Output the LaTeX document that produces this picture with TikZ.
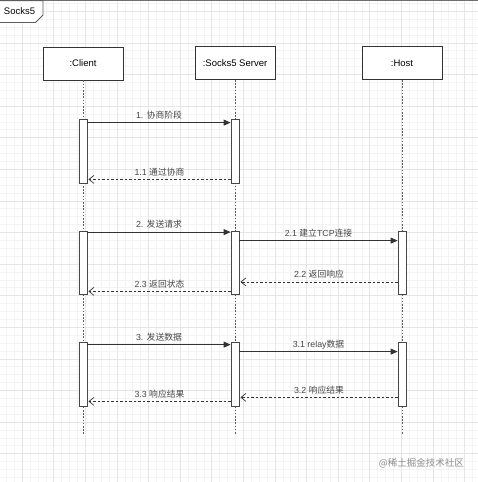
\documentclass[tikz,border=0pt]{standalone}
\usepackage{fontspec}
\setmainfont{Liberation Sans}
\newfontfamily\cjk{Noto Sans CJK SC}
\usetikzlibrary{arrows.meta}
\definecolor{ln}{HTML}{333333}
\definecolor{gridminor}{HTML}{F3F3F3}
\definecolor{gridmajor}{HTML}{E6E6E6}
\tikzset{
  part/.style={draw=ln, line width=0.9pt, fill=white, minimum width=80pt, minimum height=33pt, inner sep=0pt, font=\fontsize{9.5}{11}\selectfont},
  actbox/.style={draw=ln!90, line width=0.8pt, fill=white, minimum width=8pt, inner sep=0pt},
  life/.style={draw=ln!80, line width=0.9pt, dash pattern=on 1.6pt off 1.6pt},
  call/.style={draw=ln, line width=0.8pt, -{Triangle[length=7pt,width=6pt]}},
  ret/.style={draw=ln, line width=0.8pt, dash pattern=on 2.5pt off 2pt, -{Straight Barb[length=5pt,width=8pt,line width=0.7pt]}},
  lbl/.style={font=\fontsize{8.8}{10}\selectfont, text=ln!90, inner sep=0pt}
}
\begin{document}
\begin{tikzpicture}[x=1pt,y=-1pt]
\useasboundingbox (0,0) rectangle (478,482);
\fill[white] (0,0) rectangle (478,482);
% grid
\foreach \i in {0,...,61} { \draw[gridminor, line width=0.5pt] ({-1.6+\i*7.9},0) -- ({-1.6+\i*7.9},482); }
\foreach \i in {0,...,61} { \draw[gridminor, line width=0.5pt] (0,{3.3+\i*7.9}) -- (478,{3.3+\i*7.9}); }
\foreach \i in {0,...,15} { \draw[gridmajor, line width=0.6pt] ({22+\i*31.6-31.6},0) -- ({22+\i*31.6-31.6},482); }
\foreach \i in {0,...,15} { \draw[gridmajor, line width=0.6pt] (0,{11.2+\i*31.6}) -- (478,{11.2+\i*31.6}); }
% frame
\draw[ln!70, line width=0.9pt] (478,0.6) -- (0,0.6);
\draw[ln!80, line width=0.9pt, fill=white] (0,0.6) -- (43,0.6) -- (43,15) -- (35.5,22.5) -- (0,22.5);
\node[font=\fontsize{9.5}{11}\selectfont, inner sep=0pt] (fr) at (19.5,11.5) {Socks5};
% participants
\node[part] (cl) at (83,63.5) {:Client};
\node[part] (sv) at (235,63) {:Socks5 Server};
\node[part] (hs) at (402,63) {:Host};
\coordinate (clend) at (83,435);
\coordinate (svend) at (235,435);
\coordinate (hsend) at (402,435);
\draw[life] (cl.south) -- (clend);
\draw[life] (sv.south) -- (svend);
\draw[life] (hs.south) -- (hsend);
% activations
\node[actbox, minimum height=64pt] (c1) at (83,151) {};
\node[actbox, minimum height=64pt] (s1) at (235,151) {};
\node[actbox, minimum height=63pt] (c2) at (83,262.5) {};
\node[actbox, minimum height=63pt] (s2) at (235,262.5) {};
\node[actbox, minimum height=63pt] (h2) at (402,262.5) {};
\node[actbox, minimum height=64pt] (c3) at (83,374) {};
\node[actbox, minimum height=64pt] (s3) at (235,374) {};
\node[actbox, minimum height=64pt] (h3) at (402,374) {};
% group 1
\draw[call] ([yshift=-4pt]c1.north east) -- node[lbl, yshift=7.5pt] (l1) {1. {\cjk 协商阶段}} ([yshift=-4pt]s1.north west);
\draw[ret] ([yshift=4pt]s1.south west) -- node[lbl, yshift=7.5pt] (l11) {1.1 {\cjk 通过协商}} ([xshift=1pt,yshift=4pt]c1.south east);
% group 2
\draw[call] ([yshift=-1.5pt]c2.north east) -- node[lbl, yshift=7.5pt] (l2) {2. {\cjk 发送请求}} ([yshift=-1.5pt]s2.north west);
\draw[call] ([yshift=-10pt]s2.north east) -- node[lbl, yshift=7pt] (l21) {2.1 {\cjk 建立}TCP{\cjk 连接}} ([yshift=-10pt]h2.north west);
\draw[ret] ([yshift=12.5pt]h2.south west) -- node[lbl, yshift=7.5pt] (l22) {2.2 {\cjk 返回响应}} ([xshift=1pt,yshift=12.5pt]s2.south east);
\draw[ret] ([yshift=3pt]s2.south west) -- node[lbl, yshift=7.5pt] (l23) {2.3 {\cjk 返回状态}} ([xshift=1pt,yshift=3pt]c2.south east);
% group 3
\draw[call] ([yshift=-3pt]c3.north east) -- node[lbl, yshift=7.5pt] (l3) {3. {\cjk 发送数据}} ([yshift=-3pt]s3.north west);
\draw[call] ([yshift=-10pt]s3.north east) -- node[lbl, yshift=7pt] (l31) {3.1 relay{\cjk 数据}} ([yshift=-10pt]h3.north west);
\draw[ret] ([yshift=9pt]h3.south west) -- node[lbl, yshift=7.5pt] (l32) {3.2 {\cjk 响应结果}} ([xshift=1pt,yshift=9pt]s3.south east);
\draw[ret] ([yshift=5pt]s3.south west) -- node[lbl, yshift=7.5pt] (l33) {3.3 {\cjk 响应结果}} ([xshift=1pt,yshift=5pt]c3.south east);
% watermark
\node[font=\cjk\fontsize{9.5}{11}\selectfont, text=black!45, anchor=east, inner sep=0pt] (wm) at (464,463) {@稀土掘金技术社区};
\end{tikzpicture}
\end{document}
